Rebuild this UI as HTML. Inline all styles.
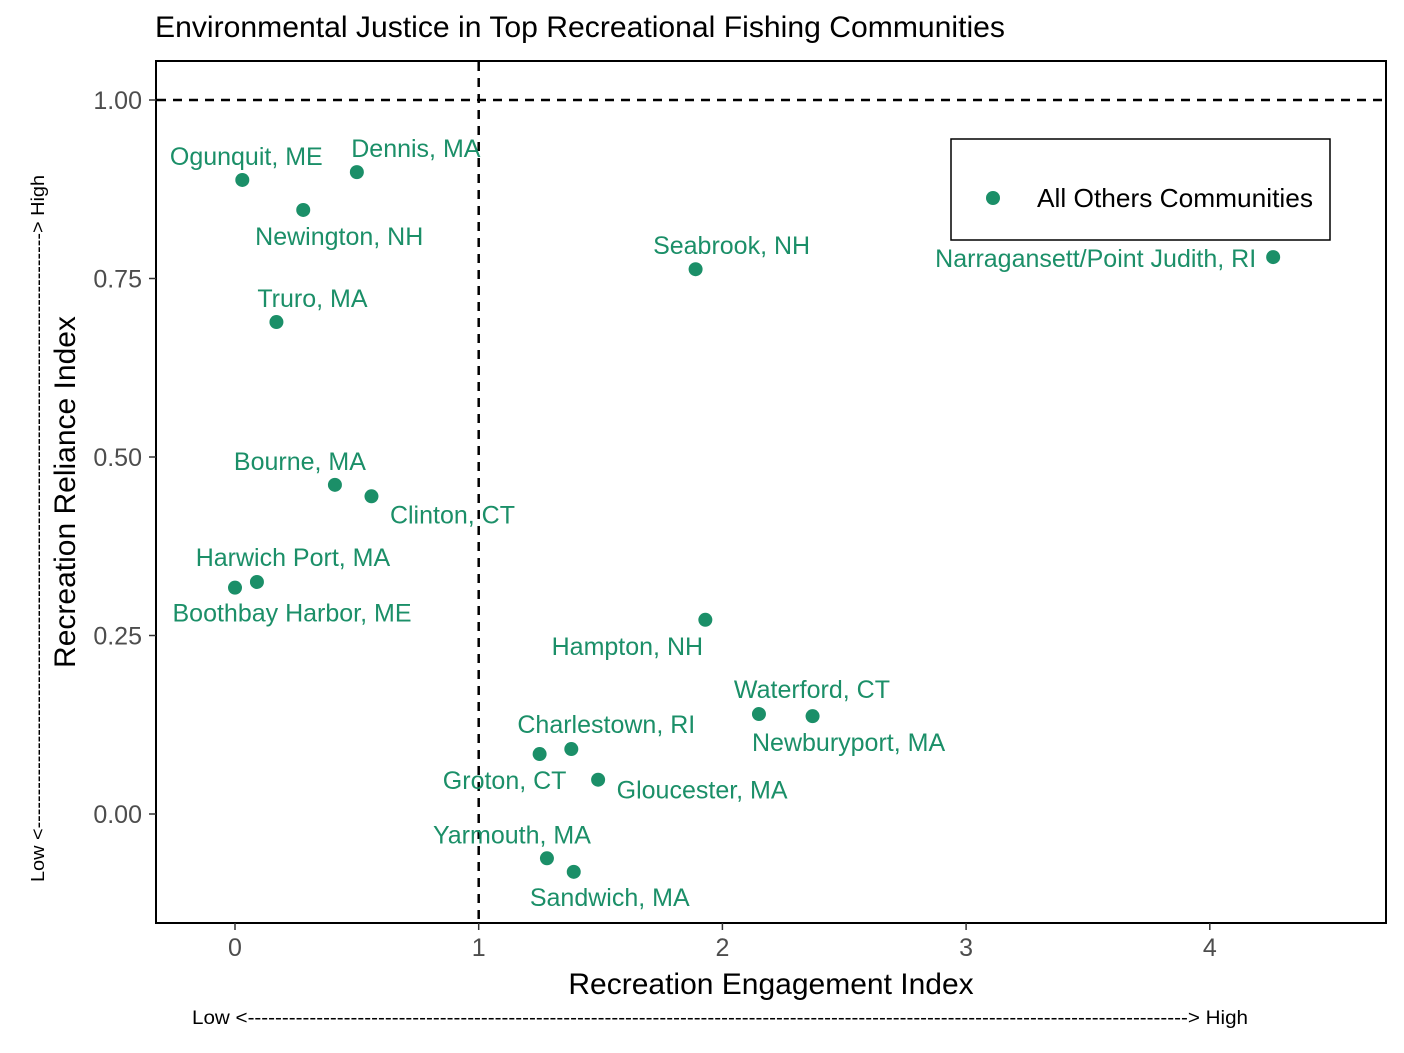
<!DOCTYPE html>
<html><head><meta charset="utf-8"><style>
html,body{margin:0;padding:0;background:#fff;}
svg{display:block;font-family:"Liberation Sans",Arial,sans-serif;}
</style></head><body>
<svg id="chart" width="1404" height="1053" viewBox="0 0 1404 1053" xmlns="http://www.w3.org/2000/svg">
<text x="155" y="37" font-size="30" textLength="850" lengthAdjust="spacingAndGlyphs" fill="#000">Environmental Justice in Top Recreational Fishing Communities</text>
<rect x="156" y="61" width="1230" height="862" fill="#fff" stroke="#000" stroke-width="2"/>
<g id="axes"></g>
<g id="marks"></g>
<g>
<rect x="951" y="139" width="379" height="101" fill="#fff" stroke="#000" stroke-width="1.5"/>
<circle cx="993" cy="198" r="7" fill="#1B8F68"/>
<text x="1037" y="207" font-size="26" textLength="276" lengthAdjust="spacingAndGlyphs" fill="#000">All Others Communities</text>
</g>
<text x="771" y="994" font-size="30" text-anchor="middle" fill="#000">Recreation Engagement Index</text>
<text x="192" y="1024" font-size="19" textLength="1056" lengthAdjust="spacingAndGlyphs" fill="#000">Low &lt;-----------------------------------------------------------------------------------------------------------------------------------------&gt; High</text>
<text transform="translate(75,492) rotate(-90)" font-size="30" text-anchor="middle" fill="#000">Recreation Reliance Index</text>
<text transform="translate(44,882) rotate(-90)" font-size="18" textLength="707" lengthAdjust="spacingAndGlyphs" fill="#000">Low &lt;------------------------------------------------------------------------------------------&gt; High</text>
</svg>
<script>
const names=["Ogunquit, ME","Dennis, MA","Newington, NH","Truro, MA","Seabrook, NH","Narragansett/Point Judith, RI","Bourne, MA","Clinton, CT","Harwich Port, MA","Boothbay Harbor, ME","Hampton, NH","Waterford, CT","Newburyport, MA","Charlestown, RI","Groton, CT","Gloucester, MA","Yarmouth, MA","Sandwich, MA"];
const engagement=[0.03,0.50,0.28,0.17,1.89,4.26,0.41,0.56,0.09,0.0,1.93,2.15,2.37,1.38,1.25,1.49,1.28,1.39];
const reliance=[0.888,0.899,0.846,0.689,0.763,0.780,0.461,0.445,0.325,0.317,0.272,0.140,0.137,0.091,0.084,0.048,-0.062,-0.081];
const xTicks=[0,1,2,3,4];
const yTicks=[0,0.25,0.5,0.75,1.0];
const yTickLabels=["0.00","0.25","0.50","0.75","1.00"];
// label layout offsets (pixels, styling only)
const lblDx=[4,59,36,36,36,-17,-35,81,36,57,-78,53,36,35,-35,104,-35,36];
const lblDy=[-23,-23,27,-23,-23,2,-23,19,-24,26,27,-24,27,-24,27,11,-23,26];
const lblAnchor=["middle","middle","middle","middle","middle","end","middle","middle","middle","middle","middle","middle","middle","middle","middle","middle","middle","middle"];

const X0=235,XU=243.7,Y0=814,YU=714;
const sx=v=>X0+v*XU, sy=v=>Y0-v*YU;
const NS="http://www.w3.org/2000/svg";
const axes=document.getElementById('axes'), marks=document.getElementById('marks');
function mk(tag,attrs,parent){const e=document.createElementNS(NS,tag);for(const k in attrs)e.setAttribute(k,attrs[k]);parent.appendChild(e);return e;}

xTicks.forEach(t=>{
  const tk=mk('line',{x1:sx(t),x2:sx(t),y1:923,y2:930,stroke:'#333','stroke-width':1.5},axes);
  
  
  const tx=mk('text',{x:sx(t),y:956,'font-size':25,'text-anchor':'middle',fill:'#4d4d4d'},axes);
  tx.textContent=String(t);
  
  
});
yTicks.forEach((t,i)=>{
  const tk=mk('line',{x1:149,x2:156,y1:sy(t),y2:sy(t),stroke:'#333','stroke-width':1.5},axes);
  
  
  const tx=mk('text',{x:142,y:sy(t)+9,'font-size':25,'text-anchor':'end',fill:'#4d4d4d'},axes);
  tx.textContent=yTickLabels[i];
  
  
});
const vl=mk('line',{x1:sx(1),x2:sx(1),y1:62,y2:922,stroke:'#000','stroke-width':2.5,'stroke-dasharray':'9,7'},axes);


const hl=mk('line',{x1:157,x2:1385,y1:sy(1),y2:sy(1),stroke:'#000','stroke-width':2.5,'stroke-dasharray':'9,7'},axes);



names.forEach((n,i)=>{
  const px=sx(engagement[i]), py=sy(reliance[i]);
  const c=mk('circle',{cx:px,cy:py,r:7,fill:'#1B8F68'},marks);
  
  
  const t=mk('text',{x:px+lblDx[i],y:py+lblDy[i]+8,'font-size':25,'text-anchor':lblAnchor[i],fill:'#1B8F68'},marks);
  t.textContent=n;
  
  
});
</script>
</body></html>
